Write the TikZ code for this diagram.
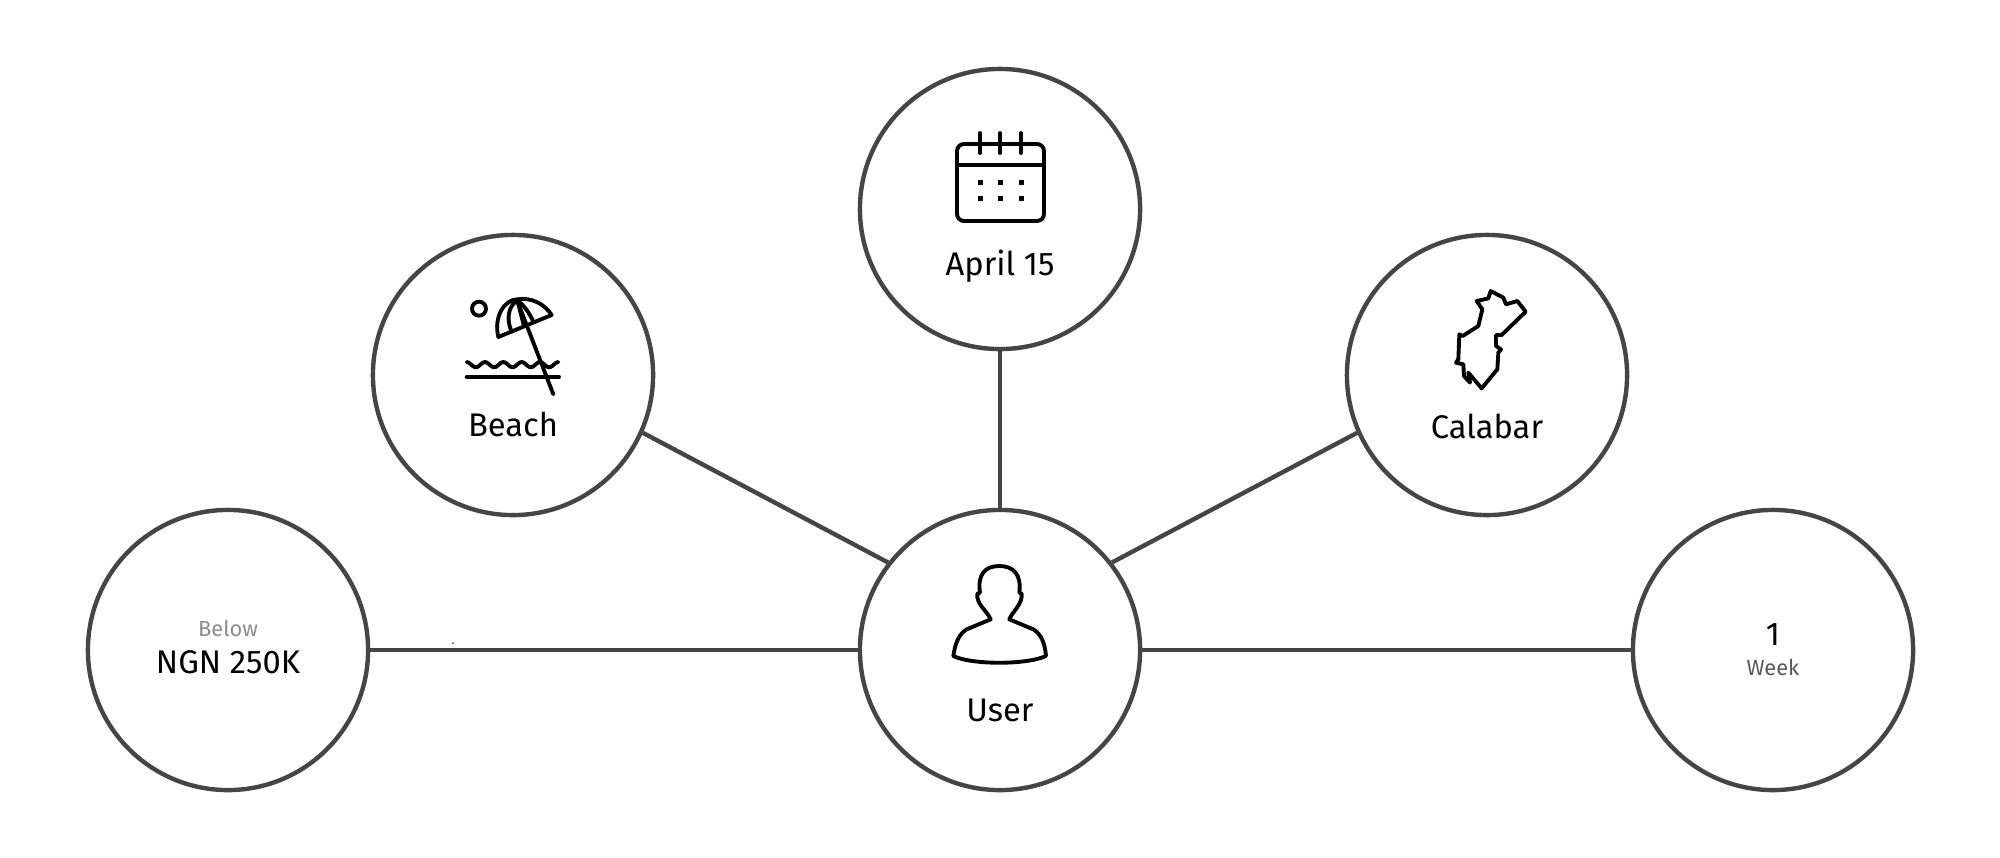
\documentclass[tikz,border=0pt]{standalone}
\usepackage{fontspec}
\setmainfont{Fira Sans}
\definecolor{ringgray}{HTML}{454545}
\tikzset{
	ring/.style={circle,draw=ringgray,line width=1.25pt,minimum size=2.8cm,inner sep=0pt},
	link/.style={draw=ringgray,line width=1.25pt},
	icon/.style={draw=black,line width=1.1pt,line join=round,line cap=round},
	caption/.style={anchor=base,inner sep=0pt,font=\fontsize{9.3}{11}\selectfont,text=black},
	small/.style={anchor=base,inner sep=0pt,font=\fontsize{6.2}{7}\selectfont},
}
\begin{document}
\begin{tikzpicture}[x=0.01cm,y=-0.01cm,line join=round]
	\useasboundingbox (0,0) rectangle (2000,857);
	% rings
	\node[ring] (user) at (1000,650) {};
	\node[ring] (beach) at (513,375) {};
	\node[ring] (date) at (1000,209) {};
	\node[ring] (city) at (1487,375) {};
	\node[ring] (budget) at (228,650) {};
	\node[ring] (length) at (1773,650) {};
	% links
	\draw[link] (budget.east)--(user.west);
	\draw[link] (user.east)--(length.west);
	\draw[link] (date.south)--(user.north);
	\draw[link] (beach.-24)--(user.142);
	\draw[link] (city.204)--(user.38);
	\fill[ringgray] (453,643) circle(1);
	% labels
	\node[caption] (datetext) at (1000,275) {April 15};
	\node[caption] (beachtext) at (513,436) {Beach};
	\node[caption] (citytext) at (1487,438) {Calabar};
	\node[caption] (usertext) at (1000,721) {User};
	\node[caption] (budgettext) at (228,673) {NGN 250K};
	\node[small,text=black!45] (belowtext) at (228,636) {Below};
	\node[caption] (onetext) at (1773,645) {1};
	\node[small,text=black!65] (weektext) at (1773,675) {Week};
	% calendar
	\draw[icon,rounded corners=0.7mm] (957,144) rectangle (1044,221);
	\draw[icon] (957,165)--(1044,165);
	\foreach \i in {980,1000,1021}{
		\draw[icon] (\i,133)--(\i,153);
		\fill (\i,182) +(-2.5,-2.5) rectangle +(2.5,2.5);
		\fill (\i,198) +(-2.5,-2.5) rectangle +(2.5,2.5);
	}
	% beach
	\begin{scope}[shift={(430,271)},scale=0.3333]
		\draw[icon] (147,113) circle(21);
		\draw[icon] (205,198) .. controls (190,135) and (225,85) .. (262,85) .. controls (305,78) and (345,100) .. (365,132) -- cycle;
		\draw[icon] (262,88) .. controls (235,105) and (228,145) .. (245,182);
		\draw[icon] (262,88) .. controls (285,105) and (300,130) .. (310,152);
		\draw[icon] (262,88)--(282,165);
		\draw[icon] (262,90)--(370,370);
		\draw[icon] plot[domain=110:385,samples=46,smooth] (\x,{281-8*cos(6.545*(\x-110))});
		\draw[icon] (110,318)--(387,318);
	\end{scope}
	% map
	\begin{scope}[shift={(1400,271)},scale=0.3333]
		\draw[icon,miter limit=3] (272,60)--(310,80)--(318,100)--(352,90)--(377,122)--(305,192)--(288,192)--(288,225)--(303,235)--(295,245)--(292,295)--(245,352)--(205,305)--(210,335)--(192,315)--(190,280)--(168,275)--(175,265)--(178,190)--(188,195)--(235,165)--(247,115)--(230,90)--(265,82)--cycle;
	\end{scope}
	% person
	\begin{scope}[shift={(900,541)},scale=0.3333]
		\draw[icon] (272,235) .. controls (262,210) and (228,190) .. (232,158) -- (240,155) .. controls (232,100) and (255,75) .. (298,75) .. controls (340,75) and (365,100) .. (358,155) -- (365,158) .. controls (368,190) and (338,210) .. (328,235) -- (400,265) .. controls (425,280) and (435,310) .. (438,345) .. controls (380,372) and (215,372) .. (160,345) .. controls (165,310) and (175,280) .. (200,265) -- cycle;
	\end{scope}
\end{tikzpicture}
\end{document}
